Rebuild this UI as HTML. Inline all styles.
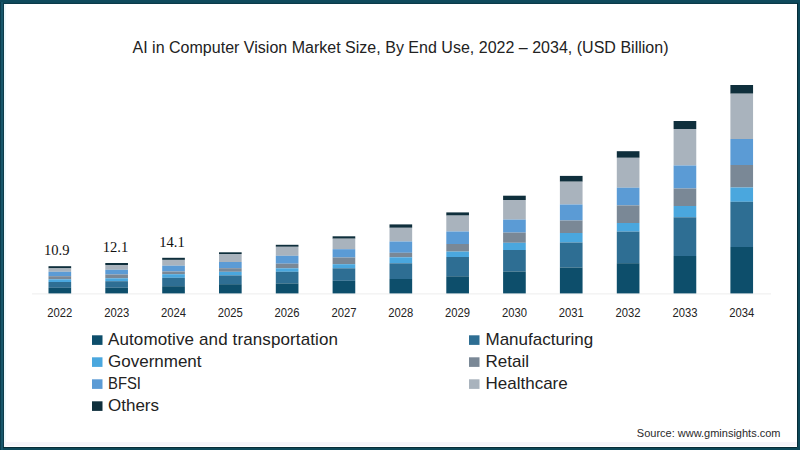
<!DOCTYPE html>
<html><head><meta charset="utf-8"><style>
html,body{margin:0;padding:0;background:#fff;}
body{width:800px;height:450px;overflow:hidden;position:relative;}
svg{position:absolute;left:0;top:0;}
text{font-family:"Liberation Sans",sans-serif;fill:#222;}
.title{font-size:16px;fill:#222;}
.yr{font-size:12px;fill:#222;}
.val{font-size:15px;fill:#111;font-family:"Liberation Serif",serif;}
.lg{font-size:17px;fill:#222;}
.src{font-size:11px;fill:#2a2a2a;}
</style></head><body>
<svg width="800" height="450" viewBox="0 0 800 450">
<rect x="0" y="0" width="800" height="450" fill="#0d4859"/>
<rect x="0" y="0" width="1" height="450" fill="#0a3d4e"/>
<rect x="1" y="0" width="2" height="450" fill="#17566a"/>
<rect x="3" y="3" width="1" height="444" fill="#0c3b4a"/>
<rect x="0" y="0" width="800" height="2" fill="#0f4a5c"/>
<rect x="3" y="3" width="794" height="1" fill="#0b3a49"/>
<rect x="797" y="3" width="1" height="444" fill="#072c37"/>
<rect x="3" y="447" width="794" height="1" fill="#072c37"/>
<rect x="4" y="4" width="793" height="443" fill="#ffffff"/>
<rect x="4" y="4" width="2" height="443" fill="#eef9fc"/>
<rect x="4" y="442" width="793" height="4" fill="#f6f5fa"/>
<text x="400.5" y="53.2" text-anchor="middle" class="title" textLength="536" lengthAdjust="spacing">AI in Computer Vision Market Size, By End Use, 2022 – 2034, (USD Billion)</text>
<rect x="32" y="293.4" width="739" height="1" fill="#ededed"/>
<rect x="48.5" y="266.2" width="22.66" height="2.2" fill="#0f2f3c"/><rect x="48.5" y="268.4" width="22.66" height="3.4" fill="#a9b3bd"/><rect x="48.5" y="271.8" width="22.66" height="4.4" fill="#5b9bd5"/><rect x="48.5" y="276.2" width="22.66" height="3.1" fill="#7a8896"/><rect x="48.5" y="279.3" width="22.66" height="2.7" fill="#4aa7de"/><rect x="48.5" y="282.0" width="22.66" height="5.8" fill="#2e6e93"/><rect x="48.5" y="287.8" width="22.66" height="5.6" fill="#0d4e6b"/><rect x="105.3" y="263.0" width="22.66" height="2.0" fill="#0f2f3c"/><rect x="105.3" y="265.0" width="22.66" height="4.8" fill="#a9b3bd"/><rect x="105.3" y="269.8" width="22.66" height="4.7" fill="#5b9bd5"/><rect x="105.3" y="274.5" width="22.66" height="3.8" fill="#7a8896"/><rect x="105.3" y="278.3" width="22.66" height="2.9" fill="#4aa7de"/><rect x="105.3" y="281.2" width="22.66" height="6.5" fill="#2e6e93"/><rect x="105.3" y="287.7" width="22.66" height="5.7" fill="#0d4e6b"/><rect x="162.2" y="257.8" width="22.66" height="2.1" fill="#0f2f3c"/><rect x="162.2" y="259.9" width="22.66" height="5.8" fill="#a9b3bd"/><rect x="162.2" y="265.7" width="22.66" height="5.8" fill="#5b9bd5"/><rect x="162.2" y="271.5" width="22.66" height="2.7" fill="#7a8896"/><rect x="162.2" y="274.2" width="22.66" height="3.6" fill="#4aa7de"/><rect x="162.2" y="277.8" width="22.66" height="8.4" fill="#2e6e93"/><rect x="162.2" y="286.2" width="22.66" height="7.2" fill="#0d4e6b"/><rect x="219.0" y="252.3" width="22.66" height="1.7" fill="#0f2f3c"/><rect x="219.0" y="254.0" width="22.66" height="8.0" fill="#a9b3bd"/><rect x="219.0" y="262.0" width="22.66" height="6.2" fill="#5b9bd5"/><rect x="219.0" y="268.2" width="22.66" height="3.6" fill="#7a8896"/><rect x="219.0" y="271.8" width="22.66" height="3.6" fill="#4aa7de"/><rect x="219.0" y="275.4" width="22.66" height="8.8" fill="#2e6e93"/><rect x="219.0" y="284.2" width="22.66" height="9.2" fill="#0d4e6b"/><rect x="275.8" y="244.8" width="22.66" height="2.0" fill="#0f2f3c"/><rect x="275.8" y="246.8" width="22.66" height="9.0" fill="#a9b3bd"/><rect x="275.8" y="255.8" width="22.66" height="7.9" fill="#5b9bd5"/><rect x="275.8" y="263.7" width="22.66" height="4.6" fill="#7a8896"/><rect x="275.8" y="268.3" width="22.66" height="3.5" fill="#4aa7de"/><rect x="275.8" y="271.8" width="22.66" height="11.6" fill="#2e6e93"/><rect x="275.8" y="283.4" width="22.66" height="10.0" fill="#0d4e6b"/><rect x="332.6" y="236.3" width="22.66" height="2.4" fill="#0f2f3c"/><rect x="332.6" y="238.7" width="22.66" height="10.5" fill="#a9b3bd"/><rect x="332.6" y="249.2" width="22.66" height="8.3" fill="#5b9bd5"/><rect x="332.6" y="257.5" width="22.66" height="6.7" fill="#7a8896"/><rect x="332.6" y="264.2" width="22.66" height="4.1" fill="#4aa7de"/><rect x="332.6" y="268.3" width="22.66" height="12.5" fill="#2e6e93"/><rect x="332.6" y="280.8" width="22.66" height="12.6" fill="#0d4e6b"/><rect x="389.5" y="224.4" width="22.66" height="3.4" fill="#0f2f3c"/><rect x="389.5" y="227.8" width="22.66" height="13.7" fill="#a9b3bd"/><rect x="389.5" y="241.5" width="22.66" height="11.3" fill="#5b9bd5"/><rect x="389.5" y="252.8" width="22.66" height="4.5" fill="#7a8896"/><rect x="389.5" y="257.3" width="22.66" height="6.0" fill="#4aa7de"/><rect x="389.5" y="263.3" width="22.66" height="15.7" fill="#2e6e93"/><rect x="389.5" y="279.0" width="22.66" height="14.4" fill="#0d4e6b"/><rect x="446.3" y="212.4" width="22.66" height="3.2" fill="#0f2f3c"/><rect x="446.3" y="215.6" width="22.66" height="15.9" fill="#a9b3bd"/><rect x="446.3" y="231.5" width="22.66" height="12.5" fill="#5b9bd5"/><rect x="446.3" y="244.0" width="22.66" height="7.6" fill="#7a8896"/><rect x="446.3" y="251.6" width="22.66" height="5.4" fill="#4aa7de"/><rect x="446.3" y="257.0" width="22.66" height="19.3" fill="#2e6e93"/><rect x="446.3" y="276.3" width="22.66" height="17.1" fill="#0d4e6b"/><rect x="503.1" y="195.7" width="22.66" height="4.3" fill="#0f2f3c"/><rect x="503.1" y="200.0" width="22.66" height="19.6" fill="#a9b3bd"/><rect x="503.1" y="219.6" width="22.66" height="13.0" fill="#5b9bd5"/><rect x="503.1" y="232.6" width="22.66" height="10.2" fill="#7a8896"/><rect x="503.1" y="242.8" width="22.66" height="7.2" fill="#4aa7de"/><rect x="503.1" y="250.0" width="22.66" height="21.5" fill="#2e6e93"/><rect x="503.1" y="271.5" width="22.66" height="21.9" fill="#0d4e6b"/><rect x="559.9" y="175.9" width="22.66" height="5.8" fill="#0f2f3c"/><rect x="559.9" y="181.7" width="22.66" height="22.8" fill="#a9b3bd"/><rect x="559.9" y="204.5" width="22.66" height="16.0" fill="#5b9bd5"/><rect x="559.9" y="220.5" width="22.66" height="12.5" fill="#7a8896"/><rect x="559.9" y="233.0" width="22.66" height="9.5" fill="#4aa7de"/><rect x="559.9" y="242.5" width="22.66" height="25.0" fill="#2e6e93"/><rect x="559.9" y="267.5" width="22.66" height="25.9" fill="#0d4e6b"/><rect x="616.8" y="151.2" width="22.66" height="6.6" fill="#0f2f3c"/><rect x="616.8" y="157.8" width="22.66" height="29.9" fill="#a9b3bd"/><rect x="616.8" y="187.7" width="22.66" height="17.7" fill="#5b9bd5"/><rect x="616.8" y="205.4" width="22.66" height="17.6" fill="#7a8896"/><rect x="616.8" y="223.0" width="22.66" height="8.6" fill="#4aa7de"/><rect x="616.8" y="231.6" width="22.66" height="31.6" fill="#2e6e93"/><rect x="616.8" y="263.2" width="22.66" height="30.2" fill="#0d4e6b"/><rect x="673.6" y="121.0" width="22.66" height="8.0" fill="#0f2f3c"/><rect x="673.6" y="129.0" width="22.66" height="36.5" fill="#a9b3bd"/><rect x="673.6" y="165.5" width="22.66" height="23.0" fill="#5b9bd5"/><rect x="673.6" y="188.5" width="22.66" height="17.5" fill="#7a8896"/><rect x="673.6" y="206.0" width="22.66" height="11.3" fill="#4aa7de"/><rect x="673.6" y="217.3" width="22.66" height="38.7" fill="#2e6e93"/><rect x="673.6" y="256.0" width="22.66" height="37.4" fill="#0d4e6b"/><rect x="730.4" y="85.0" width="22.66" height="8.7" fill="#0f2f3c"/><rect x="730.4" y="93.7" width="22.66" height="45.3" fill="#a9b3bd"/><rect x="730.4" y="139.0" width="22.66" height="26.0" fill="#5b9bd5"/><rect x="730.4" y="165.0" width="22.66" height="22.5" fill="#7a8896"/><rect x="730.4" y="187.5" width="22.66" height="14.3" fill="#4aa7de"/><rect x="730.4" y="201.8" width="22.66" height="45.2" fill="#2e6e93"/><rect x="730.4" y="247.0" width="22.66" height="46.4" fill="#0d4e6b"/>
<text x="59.8" y="316.5" text-anchor="middle" class="yr" textLength="25" lengthAdjust="spacingAndGlyphs">2022</text><text x="116.7" y="316.5" text-anchor="middle" class="yr" textLength="25" lengthAdjust="spacingAndGlyphs">2023</text><text x="173.5" y="316.5" text-anchor="middle" class="yr" textLength="25" lengthAdjust="spacingAndGlyphs">2024</text><text x="230.3" y="316.5" text-anchor="middle" class="yr" textLength="25" lengthAdjust="spacingAndGlyphs">2025</text><text x="287.1" y="316.5" text-anchor="middle" class="yr" textLength="25" lengthAdjust="spacingAndGlyphs">2026</text><text x="344.0" y="316.5" text-anchor="middle" class="yr" textLength="25" lengthAdjust="spacingAndGlyphs">2027</text><text x="400.8" y="316.5" text-anchor="middle" class="yr" textLength="25" lengthAdjust="spacingAndGlyphs">2028</text><text x="457.6" y="316.5" text-anchor="middle" class="yr" textLength="25" lengthAdjust="spacingAndGlyphs">2029</text><text x="514.4" y="316.5" text-anchor="middle" class="yr" textLength="25" lengthAdjust="spacingAndGlyphs">2030</text><text x="571.3" y="316.5" text-anchor="middle" class="yr" textLength="25" lengthAdjust="spacingAndGlyphs">2031</text><text x="628.1" y="316.5" text-anchor="middle" class="yr" textLength="25" lengthAdjust="spacingAndGlyphs">2032</text><text x="684.9" y="316.5" text-anchor="middle" class="yr" textLength="25" lengthAdjust="spacingAndGlyphs">2033</text><text x="741.7" y="316.5" text-anchor="middle" class="yr" textLength="25" lengthAdjust="spacingAndGlyphs">2034</text>
<text x="56.7" y="254.9" text-anchor="middle" class="val" textLength="25.5" lengthAdjust="spacingAndGlyphs">10.9</text><text x="115.5" y="251.7" text-anchor="middle" class="val" textLength="25.5" lengthAdjust="spacingAndGlyphs">12.1</text><text x="172.0" y="246.5" text-anchor="middle" class="val" textLength="25.5" lengthAdjust="spacingAndGlyphs">14.1</text>
<rect x="92" y="335.3" width="10.5" height="9.6" fill="#0d4e6b"/><text x="108" y="345.2" class="lg" textLength="230" lengthAdjust="spacing">Automotive and transportation</text><rect x="92" y="357.3" width="10.5" height="9.6" fill="#4aa7de"/><text x="108" y="367.2" class="lg">Government</text><rect x="92" y="379.3" width="10.5" height="9.6" fill="#5b9bd5"/><text x="108" y="389.2" class="lg" textLength="33" lengthAdjust="spacingAndGlyphs">BFSI</text><rect x="92" y="401.3" width="10.5" height="9.6" fill="#0f2f3c"/><text x="108" y="411.2" class="lg">Others</text><rect x="469" y="335.3" width="10.5" height="9.6" fill="#2e6e93"/><text x="485.5" y="345.2" class="lg">Manufacturing</text><rect x="469" y="357.3" width="10.5" height="9.6" fill="#7a8896"/><text x="485.5" y="367.2" class="lg">Retail</text><rect x="469" y="379.3" width="10.5" height="9.6" fill="#a9b3bd"/><text x="485.5" y="389.2" class="lg">Healthcare</text>
<text x="780.5" y="437.2" text-anchor="end" class="src">Source: www.gminsights.com</text>
</svg>
</body></html>
